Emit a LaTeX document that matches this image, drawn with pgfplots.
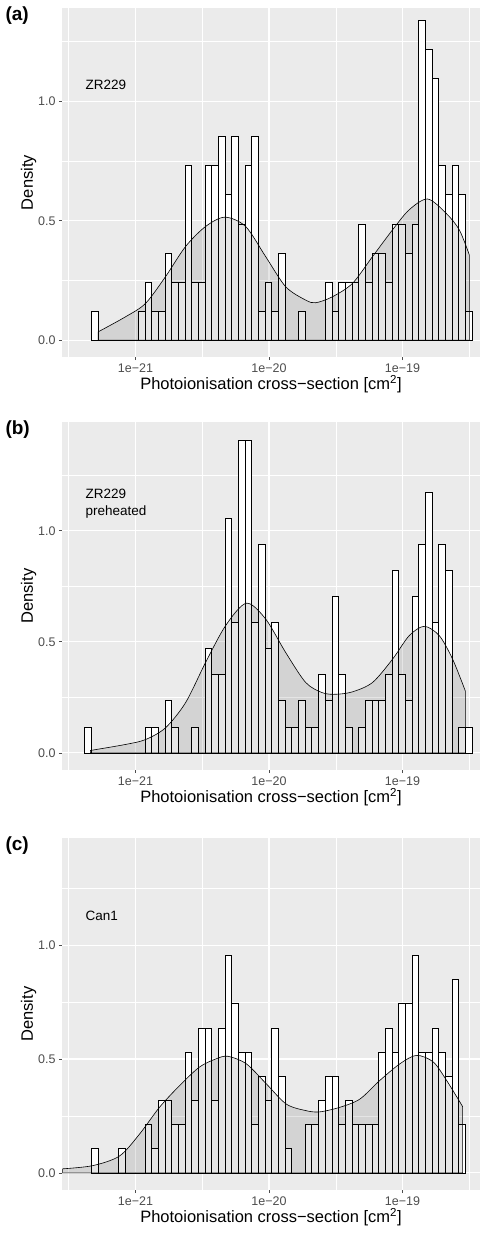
\documentclass[border=0pt]{standalone}
\usepackage{pgfplots}
\pgfplotsset{compat=1.18}
\usepackage{fontspec}
\setmainfont{Liberation Sans}
\definecolor{panel}{HTML}{EBEBEB}
\definecolor{tickc}{HTML}{4D4D4D}
\pgfplotsset{
  gg/.style={
    scale only axis, width=418bp, height=349bp,
    xmin=-21.55, xmax=-18.42,
    axis background/.style={fill=panel},
    axis line style={draw=none},
    xtick={-22,-21,-20,-19,-18},
    xticklabels={1e−22,1e−21,1e−20,1e−19,1e−18},
    ytick={0,0.5,1,1.5},
    yticklabels={0.0,0.5,1.0,1.5},
    minor tick num=1,
    grid=both,
    major grid style={white, line width=1.1bp},
    minor grid style={white, line width=0.5bp},
    tick style={tickc, line width=0.8bp},
    major tick length=3bp, minor tick length=0pt,
    tick align=outside, xtick pos=bottom, ytick pos=left,
    ticklabel style={font=\fontsize{12.5bp}{14bp}\selectfont, text=tickc},
    /pgf/number format/assume math mode=true,
    xlabel={Photoionisation cross−section [cm\textsuperscript{2}]},
    ylabel={Density},
    label style={font=\fontsize{16.5bp}{18bp}\selectfont},
    xlabel style={yshift=4bp},
    ylabel style={yshift=-5bp},
    clip=true,
  },
  hist/.style={ybar interval, fill=white, draw=black, line width=0.5bp},
  dens/.style={draw=black, line width=0.6bp, fill=black, fill opacity=0.1, smooth},
}
\begin{document}
\begin{tikzpicture}
\path[use as bounding box] (0bp,0bp) rectangle (480bp,-1242bp);
% (a)
\begin{axis}[gg, at={(62bp,-357bp)}, anchor=south west, ymin=-0.07, ymax=1.39]
\addplot[hist, y filter/.expression={y*0.1218}] coordinates {
(-21.33,1)(-21.28,0)(-21.23,0)(-21.18,0)(-21.13,0)(-21.08,0)(-21.03,0)(-20.98,1)(-20.93,2)(-20.88,1)
(-20.83,1)(-20.78,3)(-20.73,2)(-20.68,2)(-20.63,6)(-20.58,2)(-20.53,2)(-20.48,6)(-20.43,6)(-20.38,7)
(-20.33,5)(-20.28,7)(-20.23,4)(-20.18,6)(-20.13,7)(-20.08,1)(-20.03,2)(-19.98,1)(-19.93,3)(-19.88,0)
(-19.83,0)(-19.78,1)(-19.73,0)(-19.68,0)(-19.63,0)(-19.58,2)(-19.53,1)(-19.48,2)(-19.43,2)(-19.38,2)
(-19.33,4)(-19.28,2)(-19.23,3)(-19.18,3)(-19.13,2)(-19.08,4)(-19.03,4)(-18.98,3)(-18.93,4)(-18.88,11)
(-18.83,10)(-18.78,9)(-18.73,6)(-18.68,5)(-18.63,6)(-18.58,5)(-18.53,1)(-18.48,1)};
\addplot[dens] coordinates {
(-21.28,0.035)(-21.075,0.098)(-20.925,0.154)(-20.775,0.266)(-20.625,0.392)(-20.475,0.476)(-20.33,0.515)
(-20.175,0.476)(-20.025,0.350)(-19.875,0.224)(-19.725,0.168)(-19.65,0.157)(-19.525,0.182)(-19.375,0.238)
(-19.225,0.350)(-19.075,0.462)(-18.95,0.546)(-18.8125,0.591)(-18.675,0.532)(-18.575,0.462)(-18.5,0.357)} \closedcycle;
\node[anchor=west, font=\fontsize{13.5bp}{15bp}\selectfont] at (axis cs:-21.4,1.07) {ZR229};
\end{axis}
\node[anchor=north west, font=\bfseries\fontsize{19bp}{21bp}\selectfont] at (2bp,-3bp) {(a)};
% (b)
\begin{axis}[gg, at={(62bp,-770bp)}, anchor=south west, height=348bp, ymin=-0.077, ymax=1.49]
\addplot[hist, y filter/.expression={y*0.1175}] coordinates {
(-21.38,1)(-21.33,0)(-21.28,0)(-21.23,0)(-21.18,0)(-21.13,0)(-21.08,0)(-21.03,0)(-20.98,0)(-20.93,1)
(-20.88,1)(-20.83,0)(-20.78,2)(-20.73,1)(-20.68,0)(-20.63,0)(-20.58,1)(-20.53,0)(-20.48,4)(-20.43,3)
(-20.38,3)(-20.33,9)(-20.28,5)(-20.23,12)(-20.18,12)(-20.13,5)(-20.08,8)(-20.03,4)(-19.98,5)(-19.93,2)
(-19.88,1)(-19.83,1)(-19.78,2)(-19.73,1)(-19.68,1)(-19.63,3)(-19.58,2)(-19.53,6)(-19.48,3)(-19.43,1)
(-19.38,0)(-19.33,1)(-19.28,2)(-19.23,2)(-19.18,2)(-19.13,3)(-19.08,7)(-19.03,3)(-18.98,2)(-18.93,6)
(-18.88,8)(-18.83,10)(-18.78,5)(-18.73,8)(-18.68,7)(-18.63,0)(-18.58,1)(-18.53,1)(-18.48,1)};
\addplot[dens] coordinates {
(-21.3375,0.011)(-21.075,0.038)(-20.925,0.060)(-20.775,0.113)(-20.625,0.226)(-20.475,0.407)(-20.325,0.573)
(-20.17,0.674)(-20.025,0.603)(-19.875,0.452)(-19.725,0.317)(-19.6,0.271)(-19.5,0.264)(-19.375,0.275)
(-19.225,0.317)(-19.075,0.422)(-18.95,0.528)(-18.8375,0.570)(-18.725,0.528)(-18.625,0.422)(-18.53,0.279)} \closedcycle;
\node[anchor=west, align=left, font=\fontsize{13.5bp}{17bp}\selectfont] at (axis cs:-21.4,1.12) {ZR229\\preheated};
\end{axis}
\node[anchor=north west, font=\bfseries\fontsize{19bp}{21bp}\selectfont] at (2bp,-417bp) {(b)};
% (c)
\begin{axis}[gg, at={(62bp,-1190bp)}, anchor=south west, height=352bp, ymin=-0.075, ymax=1.47]
\addplot[hist, y filter/.expression={y*0.1062}] coordinates {
(-21.33,1)(-21.28,0)(-21.23,0)(-21.18,0)(-21.13,1)(-21.08,0)(-21.03,0)(-20.98,0)(-20.93,2)(-20.88,1)
(-20.83,3)(-20.78,3)(-20.73,2)(-20.68,2)(-20.63,5)(-20.58,3)(-20.53,6)(-20.48,6)(-20.43,3)(-20.38,6)
(-20.33,9)(-20.28,7)(-20.23,5)(-20.18,5)(-20.13,2)(-20.08,4)(-20.03,3)(-19.98,6)(-19.93,4)(-19.88,1)
(-19.83,0)(-19.78,0)(-19.73,2)(-19.68,2)(-19.63,3)(-19.58,4)(-19.53,4)(-19.48,2)(-19.43,3)(-19.38,2)
(-19.33,2)(-19.28,2)(-19.23,2)(-19.18,5)(-19.13,6)(-19.08,5)(-19.03,7)(-18.98,7)(-18.93,9)(-18.88,5)
(-18.83,5)(-18.78,6)(-18.73,5)(-18.68,4)(-18.63,8)(-18.58,2)(-18.53,2)};
\addplot[dens] coordinates {
(-21.545,0.018)(-21.32,0.032)(-21.12,0.074)(-20.97,0.170)(-20.82,0.288)(-20.67,0.383)(-20.52,0.465)
(-20.395,0.501)(-20.3075,0.512)(-20.17,0.479)(-20.02,0.391)(-19.87,0.302)(-19.72,0.273)(-19.62,0.268)
(-19.47,0.288)(-19.32,0.324)(-19.17,0.406)(-19.02,0.479)(-18.895,0.516)(-18.77,0.487)(-18.67,0.406)(-18.55,0.291)} \closedcycle;
\node[anchor=west, font=\fontsize{13.5bp}{15bp}\selectfont] at (axis cs:-21.4,1.13) {Can1};
\end{axis}
\node[anchor=north west, font=\bfseries\fontsize{19bp}{21bp}\selectfont] at (2bp,-833bp) {(c)};
\end{tikzpicture}
\end{document}
